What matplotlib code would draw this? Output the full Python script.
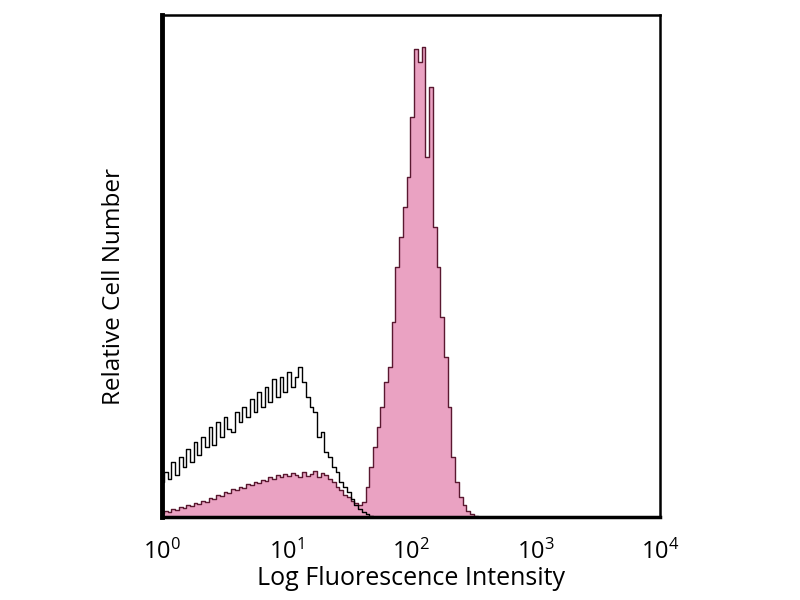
import matplotlib
matplotlib.use("Agg")
import matplotlib.pyplot as plt
import numpy as np

plt.rcParams["font.family"] = ["Open Sans", "DejaVu Sans"]
plt.rcParams["mathtext.fontset"] = "custom"
plt.rcParams["mathtext.rm"] = "Open Sans"
plt.rcParams["mathtext.default"] = "regular"

# channel positions in log10 units (0.03 decade wide, first centre at 0)
step = 0.03

# isotype control (black outline)
ctrl_counts = [35, 45, 38, 55, 42, 60, 50, 68, 55, 75, 62, 80, 70, 90, 72, 95,
               80, 100, 88, 85, 105, 95, 110, 100, 118, 105, 125, 110, 130, 115,
               138, 120, 140, 125, 145, 130, 140, 150, 135, 120, 110, 105, 80, 85,
               65, 60, 50, 45, 35, 30, 25, 18, 12, 8, 5, 3, 1]

# stained sample (pink filled)
stain_counts = [4, 6, 5, 8, 7, 10, 9, 12, 11, 14, 13, 16, 15, 19, 18, 22, 21, 25,
                24, 28, 27, 30, 29, 33, 32, 35, 34, 37, 36, 40, 38, 42, 40, 43, 41,
                44, 42, 40, 45, 41, 43, 46, 40, 44, 42, 38, 35, 30, 27, 22, 20, 16,
                14, 12, 15, 30, 50, 70, 90, 110, 135, 150, 195, 250, 280, 310, 340,
                400, 468, 455, 470, 360, 430, 290, 250, 200, 160, 110, 60, 35, 20,
                12, 6, 3, 1]

x_ticks = [1, 10, 100, 1000, 10000]
x_labels = ["$10^0$", "$10^1$", "$10^2$", "$10^3$", "$10^4$"]


def step_xy(counts):
    edges = 10 ** (np.arange(len(counts) + 1) * step - step / 2)
    xs = np.repeat(edges, 2)[1:-1]
    ys = np.repeat(counts, 2)
    xs = np.concatenate([[edges[0]], xs, [edges[-1], 1e4]])
    ys = np.concatenate([[0], ys, [0, 0]])
    return xs, ys


fig = plt.figure(figsize=(8, 6), dpi=100)
ax = fig.add_axes([0.2025, 0.138, 0.6225, 0.837])

sx, sy = step_xy(stain_counts)
ax.fill_between(sx, sy, color="#eaa2c2", linewidth=0)
ax.plot(sx, sy, color="#5a1830", lw=1.0)

cx, cy = step_xy(ctrl_counts)
ax.plot(cx, cy, color="black", lw=1.0)

ax.set_xscale("log")
ax.set_xlim(1, 1e4)
ax.set_ylim(0, 502)
ax.set_xticks(x_ticks)
ax.set_xticklabels(x_labels, fontsize=17)
ax.minorticks_off()
ax.set_yticks([])
ax.tick_params(axis="x", length=0, pad=16)

ax.spines["left"].set_linewidth(3.5)
ax.spines["bottom"].set_linewidth(2.5)
for side in ["top", "right"]:
    ax.spines[side].set_linewidth(1.8)

ax.set_xlabel("Log Fluorescence Intensity", fontsize=18, labelpad=1)
ax.set_ylabel("Relative Cell Number", fontsize=17.5)
ax.yaxis.set_label_coords(-0.072, 0.46)

fig.savefig("out.png", dpi=100)
